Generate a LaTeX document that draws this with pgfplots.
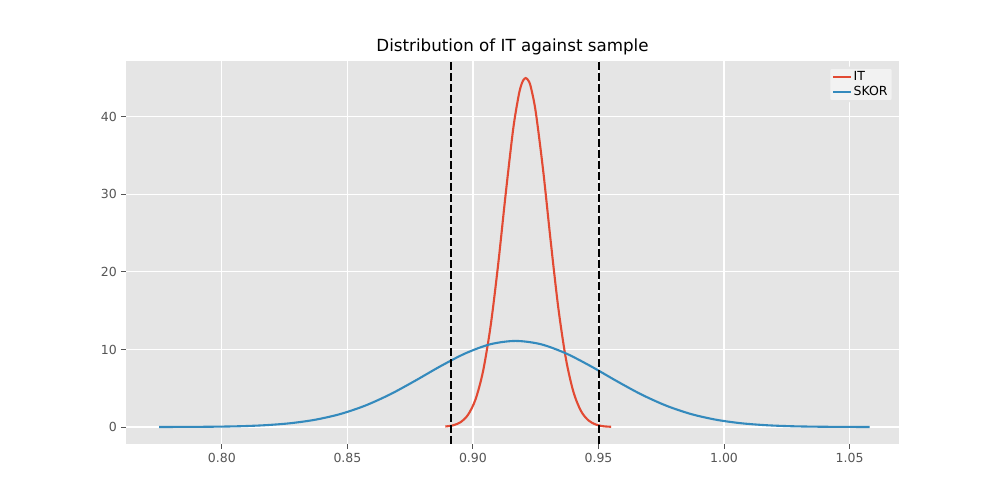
\documentclass[border=0pt]{standalone}
\usepackage{pgfplots}
\pgfplotsset{compat=1.18}
\usepackage{fontspec}
\setmainfont{DejaVu Sans}
\definecolor{bg}{HTML}{E5E5E5}
\definecolor{itc}{HTML}{E24A33}
\definecolor{skc}{HTML}{348ABD}
\definecolor{tk}{HTML}{555555}
\begin{document}
\begin{tikzpicture}
\path[use as bounding box] (0,0) rectangle (1000pt,500pt);
\begin{axis}[at={(126pt,56pt)}, anchor=south west, scale only axis,
 width=773pt, height=383pt,
 xmin=0.7618, xmax=1.0697, ymin=-2.19, ymax=47.2,
 axis background/.style={fill=bg}, axis line style={draw=none},
 grid=major, major grid style={white, line width=1.1pt},
 xtick={0.80,0.85,...,1.06}, ytick={0,10,20,30,40},
 xticklabel style={/pgf/number format/.cd, fixed, fixed zerofill, precision=2},
 /pgf/number format/assume math mode=true,
 tick label style={font=\fontsize{12.5}{14}\selectfont, text=tk},
 tick style={tk, line width=1pt}, tick align=outside, major tick length=4.8pt,
 xtick pos=bottom, ytick pos=left,
 title={Distribution of IT against sample}, title style={font=\fontsize{16.7}{19}\selectfont, yshift=-4pt},
 legend style={at={(0.993,0.985)}, anchor=north east, fill=bg!50!white, draw=white!80!gray, font=\fontsize{12.5}{15}\selectfont, rounded corners=2pt},
 legend cell align=left,
 legend image post style={line width=2.1pt},
 line width=2.1pt]
\addplot[itc, smooth] coordinates {(0.889,0.067)(0.892,0.215)(0.895,0.61)(0.898,1.56)(0.901,3.54)(0.904,7.17)(0.907,12.96)(0.910,20.86)(0.913,29.96)(0.916,38.38)(0.918,42.4)(0.919,43.87)(0.920,44.7)(0.921,45)(0.922,44.71)(0.923,43.9)(0.925,40.64)(0.928,32.96)(0.931,23.85)(0.934,15.36)(0.937,8.84)(0.940,4.54)(0.943,2.08)(0.946,0.85)(0.949,0.31)(0.952,0.10)(0.955,0.03)};
\addlegendentry{IT}
\addplot[skc, smooth] coordinates {(0.775,0.004)(0.787,0.016)(0.797,0.042)(0.807,0.10)(0.817,0.23)(0.827,0.48)(0.837,0.93)(0.847,1.66)(0.857,2.75)(0.867,4.21)(0.877,5.97)(0.887,7.83)(0.897,9.50)(0.907,10.68)(0.917,11.1)(0.927,10.68)(0.937,9.50)(0.947,7.83)(0.957,5.97)(0.967,4.21)(0.977,2.75)(0.987,1.66)(0.997,0.93)(1.007,0.48)(1.017,0.23)(1.027,0.10)(1.037,0.042)(1.047,0.016)(1.058,0.003)};
\addlegendentry{SKOR}
\addplot[black, dash pattern=on 7.7pt off 3.3pt, line width=2.1pt, forget plot] coordinates {(0.8912,-2.19)(0.8912,47.2)};
\addplot[black, dash pattern=on 7.7pt off 3.3pt, line width=2.1pt, forget plot] coordinates {(0.9502,-2.19)(0.9502,47.2)};
\end{axis}
\end{tikzpicture}
\end{document}
